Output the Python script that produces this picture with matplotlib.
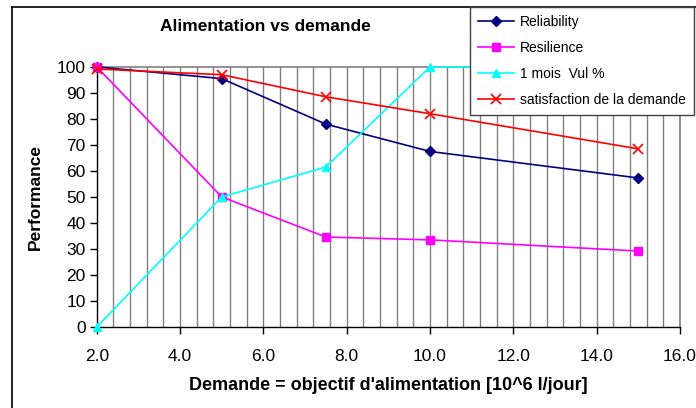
import matplotlib
matplotlib.use("Agg")
import matplotlib.pyplot as plt
from matplotlib.ticker import FormatStrFormatter
from matplotlib.lines import Line2D

plt.rcParams['font.family'] = ['Liberation Sans', 'DejaVu Sans']

demande = [2.0, 5.0, 7.5, 10.0, 15.0]
reliability = [100, 95.5, 78, 67.5, 57.3]
resilience = [100, 50, 34.6, 33.5, 29.2]
vul_1mois = [0, 50, 61.5, 100, 100]
satisfaction = [99.2, 97, 88.5, 82, 68.5]

series_names = ["Reliability", "Resilience", "1 mois  Vul %", "satisfaction de la demande"]
x_ticks = [2.0, 4.0, 6.0, 8.0, 10.0, 12.0, 14.0, 16.0]
y_ticks = list(range(0, 101, 10))

fig = plt.figure(figsize=(6.96, 4.08), dpi=100)
ax = fig.add_axes([0.139, 0.1985, 0.838, 0.6375])

# vertical grid lines every 0.4
gx = 2.4
while gx <= 16.0001:
    ax.axvline(gx, color="#808080", lw=1.0, zorder=0)
    gx += 0.4

common = dict(lw=1.2, zorder=3, clip_on=False)
ax.plot(demande, reliability, color="#000080", marker="D", ms=5, label=series_names[0], **common)
ax.plot(demande, resilience, color="#FF00FF", marker="s", ms=6, label=series_names[1], **common)
ax.plot(demande, vul_1mois, color="#00FFFF", marker="^", ms=6, label=series_names[2], **common)
ax.plot(demande, satisfaction, color="#FF0000", marker="x", ms=7, mew=1.2, label=series_names[3], **common)

ax.set_xlim(2.0, 16.0)
ax.set_ylim(0, 100)
ax.set_xticks(x_ticks)
ax.xaxis.set_major_formatter(FormatStrFormatter("%.1f"))
ax.set_yticks(y_ticks)
for s in ["left", "bottom"]:
    ax.spines[s].set_color("black")
    ax.spines[s].set_linewidth(1.0)
for s in ["top", "right"]:
    ax.spines[s].set_color("#808080")
    ax.spines[s].set_linewidth(1.2)
ax.tick_params(axis="both", direction="out", length=5, width=1, labelsize=12.5, colors="black")
ax.tick_params(axis="x", pad=11)
ax.tick_params(axis="y", pad=3)

ax.set_xlabel("Demande = objectif d'alimentation [10^6 l/jour]", fontsize=13, fontweight="bold", labelpad=9)
ax.set_ylabel("Performance", fontsize=12.5, fontweight="bold", labelpad=10)
fig.text(0.381, 0.935, "Alimentation vs demande", ha="center", va="center", fontsize=12.5, fontweight="bold")

# chart area border
fig.add_artist(Line2D([0.017, 0.017], [0.0, 0.983], transform=fig.transFigure, color="black", lw=1.2))
fig.add_artist(Line2D([0.017, 1.0], [0.983, 0.983], transform=fig.transFigure, color="black", lw=1.2))

leg = fig.legend(loc="upper left", bbox_to_anchor=(0.675, 0.983), fontsize=10, frameon=True,
                 fancybox=False, edgecolor="#404040", framealpha=1.0, handlelength=2.6,
                 labelspacing=0.85, borderpad=0.6, handletextpad=0.4, borderaxespad=0.0)
leg.get_frame().set_linewidth(1.0)
leg.set_zorder(10)

fig.savefig("out.png", dpi=100)
